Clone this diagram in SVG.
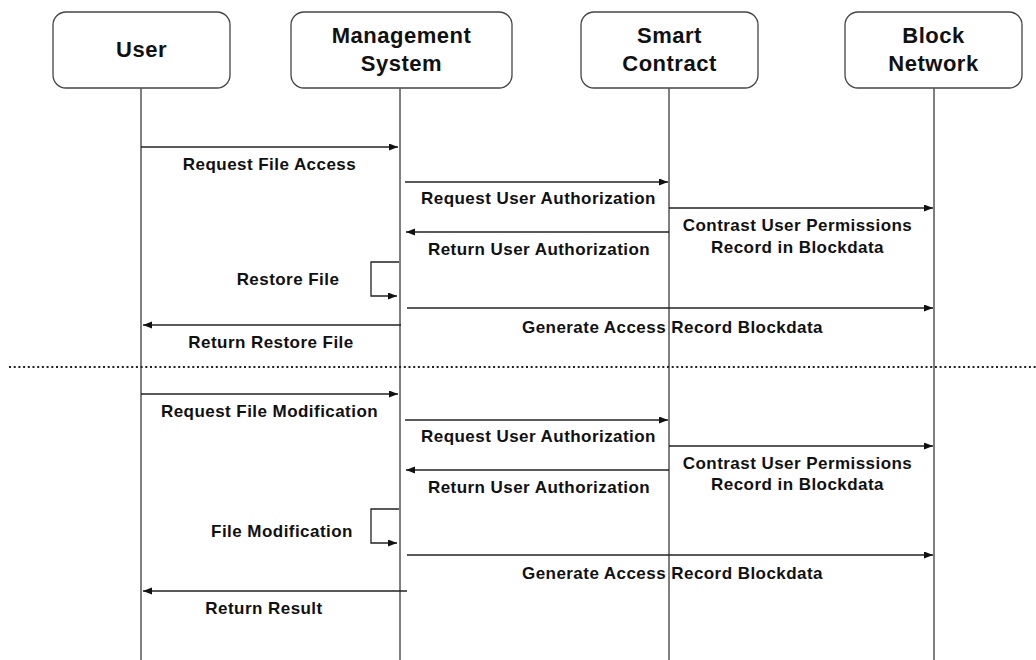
<svg xmlns="http://www.w3.org/2000/svg" width="1036" height="660" viewBox="0 0 1036 660">
<style>
.box{fill:#fff;stroke:#444;stroke-width:1.3}
.life{stroke:#555;stroke-width:1.5;fill:none}
.msga{stroke:#222;stroke-width:1.3;fill:none;marker-end:url(#ah)}
.title{font-family:"Liberation Sans",Arial,sans-serif;font-weight:bold;font-size:22px;letter-spacing:0.5px;fill:#111;text-anchor:middle}
.lbl{font-family:"Liberation Sans",Arial,sans-serif;font-weight:bold;font-size:17px;letter-spacing:0.45px;fill:#111;text-anchor:middle}
.sep{stroke:#222;stroke-width:2;stroke-dasharray:2 2.7;fill:none}
</style>
<defs>
<marker id="ah" markerUnits="userSpaceOnUse" markerWidth="10" markerHeight="8" refX="9" refY="3.5" orient="auto">
<path d="M0,0 L9,3.5 L0,7 z" fill="#111"/>
</marker>
</defs>
<rect width="1036" height="660" fill="#fff"/>
<g id="user">
<rect class="box" x="53" y="12" width="177" height="76" rx="13"/>
<text class="title" x="141.5" y="57">User</text>
<line class="life" x1="141" y1="88" x2="141" y2="660"/>
</g>
<g id="management-system">
<rect class="box" x="291" y="12" width="221" height="76" rx="13"/>
<text class="title" x="401.5" y="43">Management</text>
<text class="title" x="401.5" y="71">System</text>
<line class="life" x1="400" y1="88" x2="400" y2="660"/>
</g>
<g id="smart-contract">
<rect class="box" x="581" y="12" width="177" height="76" rx="13"/>
<text class="title" x="669.5" y="43">Smart</text>
<text class="title" x="669.5" y="71">Contract</text>
<line class="life" x1="669" y1="88" x2="669" y2="660"/>
</g>
<g id="block-network">
<rect class="box" x="845" y="12" width="177" height="76" rx="13"/>
<text class="title" x="933.5" y="43">Block</text>
<text class="title" x="933.5" y="71">Network</text>
<line class="life" x1="934" y1="88" x2="934" y2="660"/>
</g>
<line class="sep" x1="9" y1="367" x2="1036" y2="367"/>
<g id="connectors">
<path class="msga" d="M141 147 H398"/>
<path class="msga" d="M405 182 H668"/>
<path class="msga" d="M669 208 H933"/>
<path class="msga" d="M669 232 H406"/>
<path class="msga" d="M399 262 H371 V296 H397"/>
<path class="msga" d="M407 308 H933"/>
<path class="msga" d="M401 325 H143"/>
<path class="msga" d="M141 394 H398"/>
<path class="msga" d="M405 420 H668"/>
<path class="msga" d="M669 446 H933"/>
<path class="msga" d="M669 470 H406"/>
<path class="msga" d="M399 509 H371 V543 H397"/>
<path class="msga" d="M407 555 H933"/>
<path class="msga" d="M407 591 H143"/>
</g>
<g id="labels">
<text class="lbl" x="269.5" y="170">Request File Access</text>
<text class="lbl" x="538.5" y="204">Request User Authorization</text>
<text class="lbl" x="797.5" y="231">Contrast User Permissions</text>
<text class="lbl" x="797.5" y="253">Record in Blockdata</text>
<text class="lbl" x="539" y="255">Return User Authorization</text>
<text class="lbl" x="288" y="285">Restore File</text>
<text class="lbl" x="672.5" y="333">Generate Access Record Blockdata</text>
<text class="lbl" x="271" y="348">Return Restore File</text>
<text class="lbl" x="269.5" y="417">Request File Modification</text>
<text class="lbl" x="538.5" y="442">Request User Authorization</text>
<text class="lbl" x="797.5" y="469">Contrast User Permissions</text>
<text class="lbl" x="797.5" y="490">Record in Blockdata</text>
<text class="lbl" x="539" y="493">Return User Authorization</text>
<text class="lbl" x="282" y="537">File Modification</text>
<text class="lbl" x="672.5" y="579">Generate Access Record Blockdata</text>
<text class="lbl" x="264" y="614">Return Result</text>
</g>
</svg>
